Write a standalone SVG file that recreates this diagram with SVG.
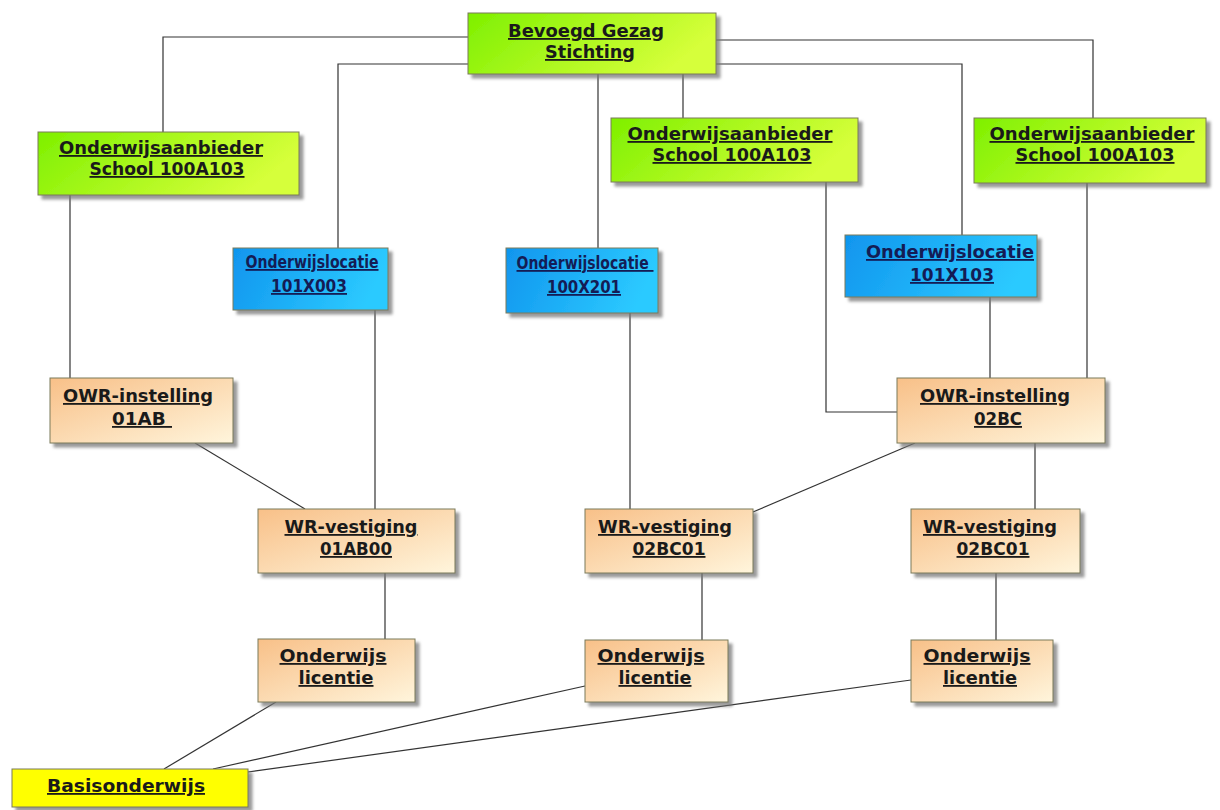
<svg xmlns="http://www.w3.org/2000/svg" width="1220" height="810" viewBox="0 0 1220 810">
<defs>
  <linearGradient id="gGreen" x1="0" y1="0" x2="1" y2="0.3">
    <stop offset="0" stop-color="#7ef000"/>
    <stop offset="1" stop-color="#d6ff3a"/>
  </linearGradient>
  <linearGradient id="gBlue" x1="0" y1="0" x2="1" y2="0.2">
    <stop offset="0" stop-color="#1095ee"/>
    <stop offset="1" stop-color="#2ccaff"/>
  </linearGradient>
  <linearGradient id="gOrange" x1="0" y1="0" x2="1" y2="1">
    <stop offset="0" stop-color="#f8c088"/>
    <stop offset="1" stop-color="#fff5dc"/>
  </linearGradient>
  <filter id="sh" x="-10%" y="-10%" width="130%" height="140%">
    <feDropShadow dx="4" dy="4" stdDeviation="1.5" flood-color="#777" flood-opacity="0.75"/>
  </filter>
</defs>
<style>
  .box { stroke: #7a7a5a; stroke-width: 1; filter: url(#sh); }
  .green { fill: url(#gGreen); }
  .blue { fill: url(#gBlue); }
  .orange { fill: url(#gOrange); }
  .yellow { fill: #ffff00; }
  text { font-family: "DejaVu Sans", "Liberation Sans", sans-serif; font-weight: bold; font-size: 18px; fill: #1a1a1a; text-anchor: middle; text-decoration: underline; white-space: pre; }
  .navy { fill: #141c55; }
  .conn line, .conn polyline { stroke: #333; stroke-width: 1.2; fill: none; }
</style>
<rect width="1220" height="810" fill="#ffffff"/>

<g id="connectors" class="conn">
  <polyline points="468,37 163,37 163,132"/>
  <polyline points="468,64 338,64 338,248"/>
  <line x1="598" y1="74" x2="598" y2="248"/>
  <line x1="683" y1="74" x2="683" y2="118"/>
  <polyline points="716,40 1093,40 1093,118"/>
  <polyline points="716,64 962,64 962,235"/>
  <line x1="70" y1="195" x2="70" y2="378"/>
  <line x1="375" y1="310" x2="375" y2="509"/>
  <line x1="195" y1="443" x2="305" y2="509"/>
  <line x1="630" y1="313" x2="630" y2="509"/>
  <polyline points="826,182 826,412 897,412"/>
  <line x1="990" y1="297" x2="990" y2="378"/>
  <line x1="1087" y1="183" x2="1087" y2="378"/>
  <line x1="915" y1="443" x2="753" y2="512"/>
  <line x1="1035" y1="443" x2="1035" y2="509"/>
  <line x1="385" y1="573" x2="385" y2="639"/>
  <line x1="702" y1="573" x2="702" y2="640"/>
  <line x1="996" y1="573" x2="996" y2="640"/>
  <line x1="276" y1="702" x2="164" y2="769"/>
  <line x1="585" y1="686" x2="213" y2="769"/>
  <line x1="911" y1="680" x2="248" y2="772"/>
</g>

<g id="bevoegd-gezag">
  <rect class="box green" x="468" y="13" width="248" height="61"/>
  <text x="586" y="37" textLength="156" lengthAdjust="spacingAndGlyphs">Bevoegd Gezag</text>
  <text x="590" y="58" textLength="90" lengthAdjust="spacingAndGlyphs">Stichting</text>
</g>

<g id="school-1">
  <rect class="box green" x="38" y="132" width="261" height="63"/>
  <text x="161" y="154" textLength="204" lengthAdjust="spacingAndGlyphs">Onderwijsaanbieder</text>
  <text x="167" y="175" textLength="155" lengthAdjust="spacingAndGlyphs">School 100A103</text>
</g>
<g id="school-2">
  <rect class="box green" x="611" y="118" width="247" height="64"/>
  <text x="730" y="140" textLength="205" lengthAdjust="spacingAndGlyphs">Onderwijsaanbieder</text>
  <text x="732" y="161" textLength="159" lengthAdjust="spacingAndGlyphs">School 100A103</text>
</g>
<g id="school-3">
  <rect class="box green" x="974" y="118" width="232" height="65"/>
  <text x="1092" y="140" textLength="205" lengthAdjust="spacingAndGlyphs">Onderwijsaanbieder</text>
  <text x="1095" y="161" textLength="159" lengthAdjust="spacingAndGlyphs">School 100A103</text>
</g>

<g id="locatie-101X003">
  <rect class="box blue" x="233" y="248" width="155" height="62"/>
  <text class="navy" x="312" y="268" textLength="133" lengthAdjust="spacingAndGlyphs">Onderwijslocatie</text>
  <text class="navy" x="309" y="292" textLength="76" lengthAdjust="spacingAndGlyphs">101X003</text>
</g>
<g id="locatie-100X201">
  <rect class="box blue" x="506" y="248" width="152" height="65"/>
  <text class="navy" x="585" y="269" textLength="137" lengthAdjust="spacingAndGlyphs">Onderwijslocatie </text>
  <text class="navy" x="584" y="293" textLength="74" lengthAdjust="spacingAndGlyphs">100X201</text>
</g>
<g id="locatie-101X103">
  <rect class="box blue" x="845" y="235" width="192" height="62"/>
  <text class="navy" x="950" y="258" textLength="168" lengthAdjust="spacingAndGlyphs">Onderwijslocatie</text>
  <text class="navy" x="952" y="281" textLength="84" lengthAdjust="spacingAndGlyphs">101X103</text>
</g>

<g id="owr-01AB">
  <rect class="box orange" x="50" y="378" width="183" height="65"/>
  <text x="138" y="402" textLength="150" lengthAdjust="spacingAndGlyphs">OWR-instelling</text>
  <text x="142" y="425" textLength="60" lengthAdjust="spacingAndGlyphs">01AB </text>
</g>
<g id="owr-02BC">
  <rect class="box orange" x="897" y="378" width="208" height="65"/>
  <text x="995" y="402" textLength="150" lengthAdjust="spacingAndGlyphs">OWR-instelling</text>
  <text x="998" y="425" textLength="48" lengthAdjust="spacingAndGlyphs">02BC</text>
</g>

<g id="wr-01AB00">
  <rect class="box orange" x="258" y="509" width="197" height="64"/>
  <text x="351" y="533" textLength="133" lengthAdjust="spacingAndGlyphs">WR-vestiging</text>
  <text x="356" y="555" textLength="72" lengthAdjust="spacingAndGlyphs">01AB00</text>
</g>
<g id="wr-02BC01-a">
  <rect class="box orange" x="585" y="509" width="168" height="64"/>
  <text x="665" y="533" textLength="134" lengthAdjust="spacingAndGlyphs">WR-vestiging</text>
  <text x="669" y="555" textLength="73" lengthAdjust="spacingAndGlyphs">02BC01</text>
</g>
<g id="wr-02BC01-b">
  <rect class="box orange" x="911" y="509" width="169" height="64"/>
  <text x="990" y="533" textLength="134" lengthAdjust="spacingAndGlyphs">WR-vestiging</text>
  <text x="993" y="555" textLength="73" lengthAdjust="spacingAndGlyphs">02BC01</text>
</g>

<g id="licentie-1">
  <rect class="box orange" x="258" y="639" width="157" height="63"/>
  <text x="333" y="662" textLength="107" lengthAdjust="spacingAndGlyphs">Onderwijs</text>
  <text x="336" y="684" textLength="75" lengthAdjust="spacingAndGlyphs">licentie</text>
</g>
<g id="licentie-2">
  <rect class="box orange" x="585" y="640" width="143" height="62"/>
  <text x="651" y="662" textLength="107" lengthAdjust="spacingAndGlyphs">Onderwijs</text>
  <text x="655" y="684" textLength="73" lengthAdjust="spacingAndGlyphs">licentie</text>
</g>
<g id="licentie-3">
  <rect class="box orange" x="911" y="640" width="142" height="62"/>
  <text x="977" y="662" textLength="107" lengthAdjust="spacingAndGlyphs">Onderwijs</text>
  <text x="980" y="684" textLength="74" lengthAdjust="spacingAndGlyphs">licentie</text>
</g>

<g id="basisonderwijs">
  <rect class="box yellow" x="12" y="769" width="236" height="38"/>
  <text x="126" y="792" textLength="158" lengthAdjust="spacingAndGlyphs">Basisonderwijs</text>
</g>
</svg>
